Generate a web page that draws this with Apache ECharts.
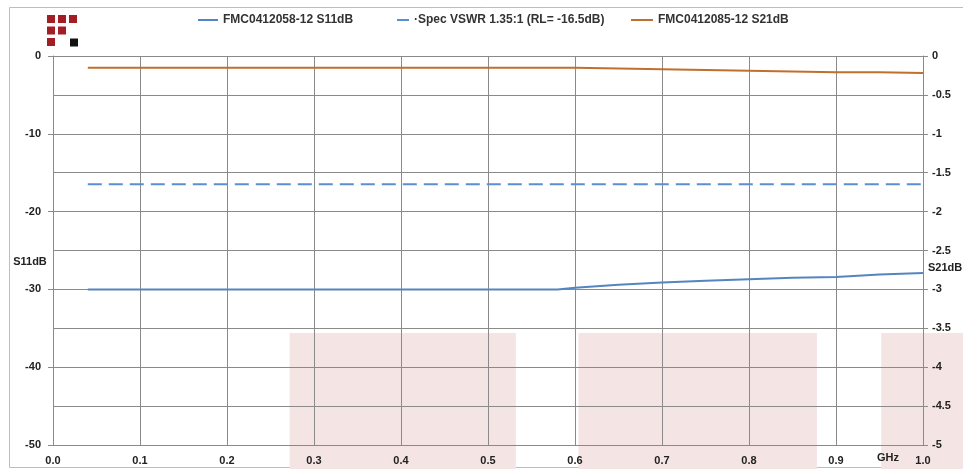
<!DOCTYPE html>
<html>
<head>
<meta charset="utf-8">
<script src="https://cdn.jsdelivr.net/npm/echarts@6/dist/echarts.min.js"></script>
<style>
html,body{margin:0;padding:0;background:#fff;}
#c{width:963px;height:469px;}
</style>
</head>
<body>
<div id="c"></div>
<script>
// ---- data ----
var freqGHz = [0.04, 0.1, 0.2, 0.3, 0.4, 0.5, 0.58, 0.6, 0.65, 0.7, 0.75, 0.8, 0.85, 0.9, 0.95, 1.0];
var s11dB   = [-30, -30, -30, -30, -30, -30, -30, -29.8, -29.4, -29.1, -28.9, -28.7, -28.5, -28.4, -28.1, -27.9];
var s21dB   = [-0.15, -0.15, -0.15, -0.15, -0.15, -0.15, -0.15, -0.15, -0.16, -0.17, -0.18, -0.19, -0.20, -0.21, -0.21, -0.22];
var specFreq = [0.04, 1.0];
var specRL   = [-16.5, -16.5];
var seriesNames = ['FMC0412058-12 S11dB', '\u00b7Spec VSWR 1.35:1 (RL= -16.5dB)', 'FMC0412085-12 S21dB'];
var shadeBands = [[0.272, 0.532], [0.604, 0.878], [0.952, 1.06]];
var shadeTopS11 = -35.6;

function pairs(xs, ys){ return xs.map(function(x,i){ return [x, ys[i]]; }); }

var font = 'Liberation Sans, Arial, sans-serif';
var gridColor = '#8a8a8a';
var chart = echarts.init(document.getElementById('c'));

var logo = [];
var cols = [47, 58, 69], rows = [15, 26.5, 38];
var cells = [[0,0],[1,0],[2,0],[0,1],[1,1],[0,2]];
cells.forEach(function(c, i){
  logo.push({id:'logo'+i, type:'rect', shape:{x:cols[c[0]], y:rows[c[1]], width:8, height:8}, style:{fill:'#a31d25'}, z:10});
});
logo.push({id:'logoB', type:'rect', shape:{x:70, y:38.5, width:8, height:8}, style:{fill:'#111'}, z:10});
logo.push({id:'frame', type:'rect', shape:{x:9.5, y:7.5, width:970, height:460}, style:{fill:'none', stroke:'#bdbdbd', lineWidth:1}, z:-10});

var legendText = {fontFamily:font, fontSize:12, fontWeight:'bold', color:'#333'};
chart.setOption({
  animation: false,
  backgroundColor: '#fff',
  textStyle: {fontFamily: font},
  grid: {left: 53, right: 40, top: 56, bottom: 24, containLabel:false, outerBoundsMode:'none'},
  legend: [
    {data:[seriesNames[0]], left:192, top:9, itemWidth:20, itemHeight:12, itemGap:0, itemStyle:{opacity:0}, textStyle:legendText},
    {data:[seriesNames[1]], left:391, top:9, itemWidth:12, itemHeight:12, itemGap:0, itemStyle:{opacity:0}, textStyle:legendText},
    {data:[seriesNames[2]], left:625, top:9, itemWidth:22, itemHeight:12, itemGap:0, itemStyle:{opacity:0}, textStyle:legendText}
  ],
  xAxis: {
    type:'value', min:0, max:1, interval:0.1,
    name:'GHz', nameLocation:'end', nameGap:-46, nameMoveOverlap:false,
    nameTextStyle:{fontFamily:font, fontSize:11, fontWeight:'bold', color:'#222', verticalAlign:'top', padding:[7,0,0,0]},
    axisLine:{show:true, onZero:false, lineStyle:{color:gridColor}},
    axisTick:{show:false},
    axisLabel:{margin:10, fontFamily:font, fontSize:11, fontWeight:'bold', color:'#222', formatter:function(v){return v.toFixed(1);}},
    splitLine:{show:true, lineStyle:{color:gridColor, width:1}}
  },
  yAxis: [
    {
      type:'value', min:-50, max:0, interval:10, position:'left',
      name:'S11dB', nameLocation:'middle', nameRotate:0, nameGap:23, nameMoveOverlap:false,
      nameTextStyle:{fontFamily:font, fontSize:11, fontWeight:'bold', color:'#222', align:'center', verticalAlign:'top', padding:[6,0,0,0]},
      axisLine:{show:true, lineStyle:{color:gridColor}},
      axisTick:{show:true, inside:false, length:5, lineStyle:{color:gridColor}},
      axisLabel:{margin:12, fontFamily:font, fontSize:11, fontWeight:'bold', color:'#222'},
      splitLine:{show:false}
    },
    {
      type:'value', min:-5, max:0, interval:0.5, position:'right',
      name:'S21dB', nameLocation:'middle', nameRotate:0, nameGap:5, nameMoveOverlap:false,
      nameTextStyle:{fontFamily:font, fontSize:11, fontWeight:'bold', color:'#222', align:'left', verticalAlign:'top', padding:[12,0,0,0]},
      axisLine:{show:true, lineStyle:{color:gridColor}},
      axisTick:{show:true, inside:false, length:5, lineStyle:{color:gridColor}},
      axisLabel:{margin:9, fontFamily:font, fontSize:11, fontWeight:'bold', color:'#222', formatter:function(v){return String(+v.toFixed(1));}},
      splitLine:{show:true, lineStyle:{color:gridColor, width:1}}
    }
  ],
  graphic: logo,
  series: [
    {name:seriesNames[0], type:'line', yAxisIndex:0, data:pairs(freqGHz, s11dB), showSymbol:false, symbol:'none', smooth:false,
     lineStyle:{color:'#5585c0', width:2}, itemStyle:{color:'#5585c0'}, z:5},
    {name:seriesNames[1], type:'line', yAxisIndex:0, data:pairs(specFreq, specRL), showSymbol:false, symbol:'none',
     lineStyle:{color:'#5a8fd4', width:2, type:[14,7]}, itemStyle:{color:'#5a8fd4'}, z:5},
    {name:seriesNames[2], type:'line', yAxisIndex:1, data:pairs(freqGHz, s21dB), showSymbol:false, symbol:'none',
     lineStyle:{color:'#c0702e', width:2}, itemStyle:{color:'#c0702e'}, z:5}
  ]
});

// light shaded bands (behind everything), placed through the axes
var yTop = chart.convertToPixel({yAxisIndex:0}, shadeTopS11);
var bands = shadeBands.map(function(b, i){
  var x0 = chart.convertToPixel({xAxisIndex:0}, b[0]);
  var x1 = chart.convertToPixel({xAxisIndex:0}, b[1]);
  return {id:'band'+i, type:'rect', shape:{x:x0, y:yTop, width:x1-x0, height:469-yTop}, style:{fill:'#f4e4e4'}, z:-5, silent:true};
});
chart.setOption({graphic: logo.concat(bands)});
</script>
</body>
</html>
